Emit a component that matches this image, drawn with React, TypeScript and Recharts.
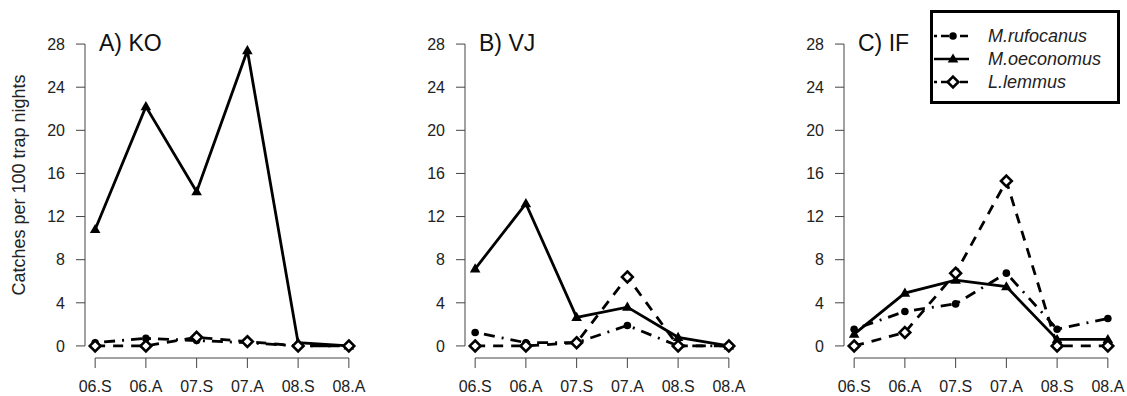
import React from "react";
import { Label, Legend, Line, LineChart, ReferenceLine, XAxis, YAxis } from "recharts";

const seasons = ["06.S", "06.A", "07.S", "07.A", "08.S", "08.A"];
const yTicks = [0, 4, 8, 12, 16, 20, 24, 28];

// A) KO
const koRufocanus = [0.3, 0.7, 0.5, 0.3, 0, 0];
const koOeconomus = [10.8, 22.2, 14.3, 27.4, 0.3, 0];
const koLemmus = [0, 0, 0.8, 0.4, 0, 0];

// B) VJ
const vjRufocanus = [1.25, 0.3, 0.3, 1.9, 0, 0];
const vjOeconomus = [7.15, 13.2, 2.65, 3.6, 0.8, 0];
const vjLemmus = [0, 0, 0.3, 6.4, 0, 0];

// C) IF
const ifRufocanus = [1.55, 3.2, 3.9, 6.75, 1.55, 2.55];
const ifOeconomus = [1.1, 4.9, 6.1, 5.5, 0.6, 0.6];
const ifLemmus = [0, 1.25, 6.75, 15.3, 0, 0];

const species = [
  { key: "rufocanus", name: "M.rufocanus", dash: "2 7 11 7", marker: "circle" },
  { key: "oeconomus", name: "M.oeconomus", dash: undefined, marker: "triangle" },
  { key: "lemmus", name: "L.lemmus", dash: "10 8", marker: "diamond" },
];

const font = "'Liberation Sans', Arial, sans-serif";
const axisColor = "#444";
const xPad = 0.2;
const yPad = 1.12;

function buildRows(r: number[], o: number[], l: number[]) {
  return seasons.map((s, i) => ({ i, season: s, rufocanus: r[i], oeconomus: o[i], lemmus: l[i] }));
}

function Marker({ kind, cx, cy }: { kind: string; cx: number; cy: number }) {
  if (kind === "circle") return <circle cx={cx} cy={cy} r={3.8} fill="#000" />;
  if (kind === "triangle")
    return <path d={`M${cx},${cy - 5.5} L${cx + 5.3},${cy + 3.6} L${cx - 5.3},${cy + 3.6} Z`} fill="#000" />;
  return (
    <path
      d={`M${cx},${cy - 5.4} L${cx + 5.4},${cy} L${cx},${cy + 5.4} L${cx - 5.4},${cy} Z`}
      fill="#fff"
      stroke="#000"
      strokeWidth={2.6}
    />
  );
}

function makeDot(kind: string) {
  return (props: any) => {
    const { cx, cy, index } = props;
    if (cx == null || cy == null) return <g key={`e-${index}`} />;
    return (
      <g key={`${kind}-${index}`}>
        <Marker kind={kind} cx={cx} cy={cy} />
      </g>
    );
  };
}

function XTick(props: any) {
  const { x, y, payload } = props;
  return (
    <text x={x} y={y + 11} textAnchor="middle" fontFamily={font} fontSize={16} fill="#222">
      {seasons[payload.value]}
    </text>
  );
}

function YTick(props: any) {
  const { x, y, payload } = props;
  return (
    <text x={x} y={y} dy={5.7} textAnchor="end" fontFamily={font} fontSize={16} fill="#222">
      {payload.value}
    </text>
  );
}

function LegendBox({ payload }: any) {
  const items = species.map((s) => {
    const hit = (payload || []).find((p: any) => p.value === s.name);
    return { ...s, label: hit ? hit.value : s.name };
  });
  return (
    <div
      style={{
        width: 190,
        height: 94,
        boxSizing: "border-box",
        border: "3px solid #000",
        background: "#fff",
        paddingTop: 12,
      }}
    >
      {items.map((s) => (
        <div key={s.key} style={{ display: "flex", alignItems: "center", height: 22.7 }}>
          <svg width={40} height={16}>
            <line
              x1={1}
              y1={8}
              x2={36}
              y2={8}
              stroke="#000"
              strokeWidth={2.5}
              strokeDasharray={s.dash ? "3 4 8 4" : undefined}
            />
            <Marker kind={s.marker} cx={20} cy={8} />
          </svg>
          <span
            style={{
              marginLeft: 15,
              fontFamily: font,
              fontStyle: "italic",
              fontSize: 18,
              color: "#222",
              lineHeight: "20px",
            }}
          >
            {s.label}
          </span>
        </div>
      ))}
    </div>
  );
}

function Panel({
  left,
  title,
  rows,
  showYLabel,
  showLegend,
}: {
  left: number;
  title: string;
  rows: any[];
  showYLabel?: boolean;
  showLegend?: boolean;
}) {
  return (
    <div style={{ position: "absolute", left, top: 0, width: 380, height: 396 }}>
      <LineChart width={380} height={396} data={rows} margin={{ top: 32, right: 21, bottom: 0, left: 25 }}>
        <XAxis
          type="number"
          dataKey="i"
          domain={[-xPad, seasons.length - 1 + xPad]}
          ticks={seasons.map((_, i) => i)}
          axisLine={false}
          tickLine={{ stroke: axisColor }}
          tickSize={10}
          tickMargin={13}
          height={38}
          tick={<XTick />}
          interval={0}
        />
        <YAxis
          type="number"
          domain={[-yPad, 28 + yPad]}
          ticks={yTicks}
          axisLine={false}
          tickLine={{ stroke: axisColor }}
          tickSize={9}
          tickMargin={11}
          width={60}
          interval={0}
          tick={<YTick />}
        >
          {showYLabel && (
            <Label
              content={(p: any) => {
                const vb = p.viewBox || { x: 25, y: 32, width: 60, height: 326 };
                const x = vb.x - 6;
                const y = vb.y + vb.height / 2 - 10;
                return (
                  <text
                    x={x}
                    y={y}
                    transform={`rotate(-90 ${x} ${y})`}
                    textAnchor="middle"
                    dominantBaseline="central"
                    fontFamily={font}
                    fontSize={18}
                    fill="#222"
                  >
                    Catches per 100 trap nights
                  </text>
                );
              }}
            />
          )}
        </YAxis>
        <ReferenceLine
          segment={[{ x: -xPad, y: 0 }, { x: -xPad, y: 28 }]}
          stroke={axisColor}
          strokeWidth={1}
          ifOverflow="visible"
        />
        <ReferenceLine
          segment={[{ x: 0, y: -yPad }, { x: seasons.length - 1, y: -yPad }]}
          stroke={axisColor}
          strokeWidth={1}
          ifOverflow="visible"
        />
        {species.map((s) => (
          <Line
            key={s.key}
            dataKey={s.key}
            name={s.name}
            type="linear"
            stroke="#000"
            strokeWidth={2.8}
            strokeDasharray={s.dash}
            dot={makeDot(s.marker)}
            activeDot={false}
            isAnimationActive={false}
          />
        ))}
        {showLegend && (
          <Legend
            layout="vertical"
            align="center"
            verticalAlign="middle"
            content={<LegendBox />}
            wrapperStyle={{ position: "absolute", left: 171, top: 10, width: 190, height: 94 }}
          />
        )}
      </LineChart>
      <div
        style={{
          position: "absolute",
          left: 99,
          top: 28,
          fontFamily: font,
          fontSize: 23,
          color: "#111",
          lineHeight: "30px",
          whiteSpace: "nowrap",
        }}
      >
        {title}
      </div>
    </div>
  );
}

export default function App() {
  return (
    <div
      style={{
        position: "absolute",
        left: 0,
        top: 0,
        width: 1127,
        height: 396,
        overflow: "hidden",
        background: "#fff",
      }}
    >
      <Panel left={0} title="A) KO" rows={buildRows(koRufocanus, koOeconomus, koLemmus)} showYLabel />
      <Panel left={380} title="B) VJ" rows={buildRows(vjRufocanus, vjOeconomus, vjLemmus)} />
      <Panel left={759} title="C) IF" rows={buildRows(ifRufocanus, ifOeconomus, ifLemmus)} showLegend />
    </div>
  );
}
